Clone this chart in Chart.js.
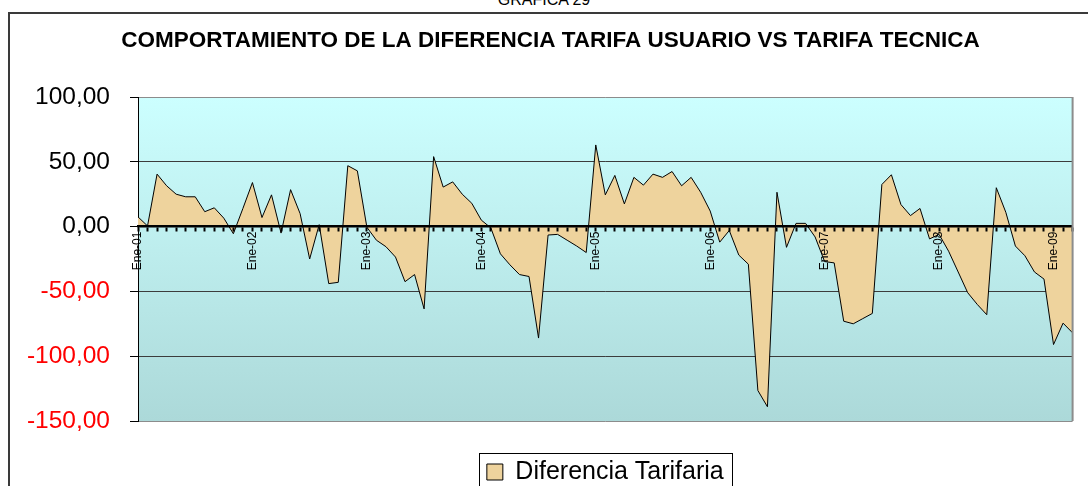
<!DOCTYPE html>
<html>
<head>
<meta charset="utf-8">
<title>Grafica 29</title>
<script src="https://cdn.jsdelivr.net/npm/chart.js@4.4.1/dist/chart.umd.min.js"></script>
<style>
  html, body { margin: 0; padding: 0; background: #fff; }
  #wrap { position: relative; width: 1088px; height: 486px; overflow: hidden; }
  #caption { position: absolute; left: 0; top: -9px; width: 1088px; text-align: center;
             font: 16px "Liberation Sans", Arial, sans-serif; color: #000; }
  #frame { position: absolute; left: 8px; top: 12px; width: 1120px; height: 520px;
           border: 2px solid #3a3a3a; box-sizing: border-box; }
  canvas { position: absolute; left: 0; top: 0; }
</style>
</head>
<body>
<div id="wrap">
  <div id="caption">GRAFICA 29</div>
  <div id="frame"></div>
  <canvas id="areaChart" width="1088" height="486"></canvas>
</div>
<script>
// categories
var monthNames = ['Ene','Feb','Mar','Abr','May','Jun','Jul','Ago','Sep','Oct','Nov','Dic'];
var years = ['01','02','03','04','05','06','07','08','09'];
var lastMonth = 'Mar-09';

// series: Diferencia Tarifaria
var diferencia = [
  7.5, 0.5, 40.5, 31.5, 25, 23, 23, 11.5, 14.5, 6.5, -5.5, 14,          // 2001
  34, 7, 24.5, -5, 28.5, 10, -25, 1.5, -44, -43, 47, 43,                // 2002
  -0.5, -10.5, -15.5, -23.5, -42.5, -37, -63.5, 54, 30.5, 34.5, 25, 18, // 2003
  5, -1, -21, -29.5, -37, -38.5, -86, -6.5, -6, -10.5, -15, -20,        // 2004
  63, 24.5, 39.5, 17.5, 38, 32, 40.5, 38, 42.5, 31.5, 38, 26.5,         // 2005
  12, -12, -3, -22, -29, -126.5, -139, 26.5, -16, 2.5, 2.5, -8,         // 2006
  -27, -28, -73, -75, -71, -67, 32.5, 40, 17, 8.5, 14, -9.5,            // 2007
  -6, -19, -35, -51, -60, -68, 30, 11, -15, -22.5, -35, -40.5,          // 2008
  -91, -74.5, -82                                                       // 2009
];

// y ticks
var yMin = -150, yMax = 100, yStep = 50;

var labels = [];
years.forEach(function(y) {
  monthNames.forEach(function(m) {
    if (labels.indexOf(lastMonth) === -1) labels.push(m + '-' + y);
  });
});

var fontFamily = '"Liberation Sans", Arial, sans-serif';

var plotDecor = {
  id: 'plotDecor',
  beforeDraw: function(chart) {
    var ctx = chart.ctx, a = chart.chartArea;
    var g = ctx.createLinearGradient(0, a.top, 0, a.bottom);
    g.addColorStop(0, '#ccffff');
    g.addColorStop(1, '#acd9d9');
    ctx.save();
    ctx.fillStyle = g;
    ctx.fillRect(a.left, a.top, a.right - a.left, a.bottom - a.top);
    ctx.restore();
  },
  afterDraw: function(chart) {
    var ctx = chart.ctx, a = chart.chartArea;
    ctx.save();
    // right edge of plot
    ctx.strokeStyle = '#8c8c8c';
    ctx.lineWidth = 2;
    ctx.beginPath();
    ctx.moveTo(a.right, a.top);
    ctx.lineTo(a.right, a.bottom);
    ctx.stroke();
    // legend frame
    var hb = chart.legend.legendHitBoxes[0];
    if (hb) {
      ctx.strokeStyle = '#000';
      ctx.lineWidth = 1;
      var l = Math.round(hb.left - 8) + 0.5;
      var t = Math.round(hb.top - 6.5) + 0.5;
      var r = Math.round(hb.left + hb.width + 8) + 0.5;
      ctx.strokeRect(l, t, r - l, 60);
    }
    ctx.restore();
  }
};

var ctxA = document.getElementById('areaChart').getContext('2d');
var myAreaChart = new Chart(ctxA, {
  type: 'line',
  data: {
    labels: labels,
    datasets: [{
      label: 'Diferencia Tarifaria',
      data: diferencia,
      fill: 'origin',
      backgroundColor: '#eed39d',
      borderColor: '#000000',
      borderWidth: 1,
      pointRadius: 0,
      tension: 0
    }]
  },
  options: {
    responsive: false,
    devicePixelRatio: 1,
    animation: false,
    layout: { padding: { left: 24, right: 11, top: 0, bottom: -8.5 } },
    plugins: {
      title: {
        display: true,
        text: 'COMPORTAMIENTO DE LA DIFERENCIA TARIFA USUARIO VS TARIFA TECNICA',
        color: '#000',
        font: { family: fontFamily, size: 22.5, weight: 'bold' },
        padding: { top: 27, bottom: 43 }
      },
      legend: {
        position: 'bottom',
        fullSize: false,
        labels: {
          boxWidth: 16,
          boxHeight: 16,
          padding: 38.5,
          color: '#000',
          font: { family: fontFamily, size: 25 }
        }
      },
      tooltip: { enabled: false }
    },
    scales: {
      x: {
        type: 'category',
        position: { y: 0 },
        offset: false,
        grid: { drawOnChartArea: false, drawTicks: true, tickLength: 4, tickWidth: 2, tickColor: '#000', z: 1 },
        border: { display: true, color: '#000', width: 2.5, z: 1 },
        ticks: {
          autoSkip: false,
          minRotation: 90,
          maxRotation: 90,
          padding: 1,
          color: '#000',
          z: 1,
          font: { family: fontFamily, size: 12 },
          callback: function(v, i) {
            var l = labels[i];
            return l.indexOf('Ene') === 0 ? l : '';
          }
        }
      },
      y: {
        min: yMin,
        max: yMax,
        afterFit: function(s) { s.width = 114; },
        grid: {
          color: function(c) {
            return (c.tick && (c.tick.value === yMax || c.tick.value === yMin)) ? '#8c8c8c' : '#3c3c3c';
          },
          lineWidth: 1,
          tickLength: 8,
          tickColor: '#000'
        },
        border: { display: true, color: '#000', width: 1 },
        ticks: {
          stepSize: yStep,
          padding: 20,
          font: { family: fontFamily, size: 24.5 },
          color: function(c) { return c.tick && c.tick.value < 0 ? '#ff0000' : '#000000'; },
          callback: function(v) { return v.toFixed(2).replace('.', ','); }
        }
      }
    }
  },
  plugins: [plotDecor]
});
</script>
</body>
</html>
